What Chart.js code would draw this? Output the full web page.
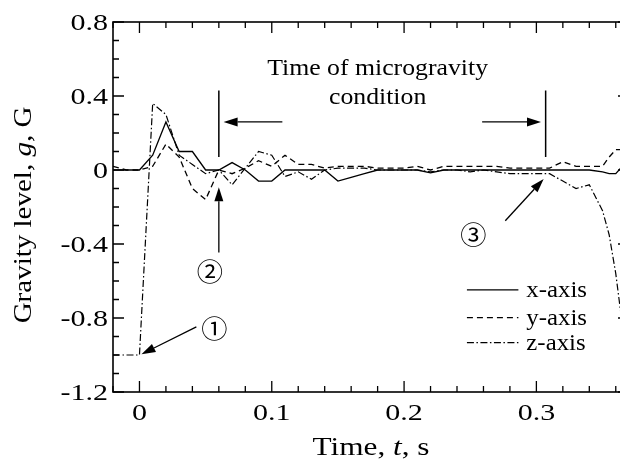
<!DOCTYPE html>
<html>
<head>
<meta charset="utf-8">
<script src="https://cdn.jsdelivr.net/npm/chart.js@4.4.1/dist/chart.umd.min.js"></script>
<style>
  html, body { margin: 0; padding: 0; background: #fff; overflow: hidden; }
  #wrap { width: 620px; height: 472px; overflow: hidden; }
</style>
</head>
<body>
<div id="wrap"><canvas id="gravityChart" width="630" height="472"></canvas></div>
<script>
// sample times, s
const times = [-0.02, -0.01, 0, 0.01, 0.02, 0.03, 0.04, 0.05, 0.06, 0.07, 0.08, 0.09,
    0.10, 0.11, 0.12, 0.13, 0.14, 0.15, 0.16, 0.17, 0.18, 0.19, 0.20, 0.21, 0.22,
    0.23, 0.24, 0.25, 0.26, 0.27, 0.28, 0.29, 0.30, 0.31, 0.32, 0.33, 0.34, 0.35,
    0.355, 0.36, 0.365, 0.37];

// gravity level, G
const xAxisG = [0, 0, 0, 0.08, 0.26, 0.10, 0.10, 0, 0, 0.04, 0, -0.06,
    -0.06, 0, 0, 0, 0, -0.06, -0.04, -0.02, 0, 0, 0, 0, -0.015,
    0, 0, 0, 0, 0, 0, 0, 0, 0, 0, 0, 0, -0.01,
    -0.02, -0.02, 0.02, 0.05];
const yAxisG = [0.02, 0, 0, 0.02, 0.14, 0.07, -0.10, -0.16, 0, -0.02, 0.01, 0.05,
    0.02, 0.08, 0.03, 0.03, 0.01, 0.02, 0.02, 0.02, 0.01, 0.01, 0.01, 0.02, 0,
    0.02, 0.02, 0.02, 0.02, 0.02, 0.01, 0.01, 0.01, 0.01, 0.045, 0.02, 0.02, 0.02,
    0.07, 0.11, 0.11, 0.09];
const zAxisG = [-1.0, -1.0, -1.0, 0.36, 0.30, 0.08, 0.03, -0.02, 0, -0.08, 0.01, 0.10,
    0.08, -0.035, -0.01, -0.05, 0, 0.01, 0.01, 0.01, 0, 0, 0, 0, -0.01,
    0, 0, -0.01, 0, -0.01, -0.02, -0.02, -0.02, -0.02, -0.06, -0.10, -0.08, -0.22,
    -0.35, -0.56, -0.84, -1.1];

const xTicks = [0, 0.1, 0.2, 0.3];
const yTicks = [-1.2, -0.8, -0.4, 0, 0.4, 0.8];
const seriesNames = ['x-axis', 'y-axis', 'z-axis'];

const SERIF = '"Liberation Serif", serif';
const CIRCLED = '"Noto Sans CJK JP", sans-serif';
const DASH = { solid: [], dashed: [6, 4], dashDot: [7, 2.5, 1.5, 2.5] };

function toPoints(values) {
    return times.map((t, i) => ({ x: t, y: values[i] }));
}

// text with its own horizontal stretch; runs = [[text, font], ...]
function drawRuns(ctx, runs, x, y, sx, align, angle) {
    let total = 0;
    const widths = runs.map(([text, font]) => {
        ctx.font = font;
        const w = ctx.measureText(text).width;
        total += w;
        return w;
    });
    let cx = align === 'center' ? -total / 2 : align === 'right' ? -total : 0;
    ctx.save();
    ctx.translate(x, y);
    if (angle) ctx.rotate(angle);
    ctx.scale(sx, 1);
    ctx.textAlign = 'left';
    ctx.textBaseline = 'alphabetic';
    ctx.fillStyle = '#000';
    runs.forEach(([text, font], i) => {
        ctx.font = font;
        ctx.fillText(text, cx, 0);
        cx += widths[i];
    });
    ctx.restore();
}

function drawArrow(ctx, x1, y1, x2, y2) {
    const ang = Math.atan2(y2 - y1, x2 - x1);
    const len = 14, half = 4.5;
    const bx = x2 - len * Math.cos(ang), by = y2 - len * Math.sin(ang);
    ctx.beginPath();
    ctx.moveTo(x1, y1);
    ctx.lineTo(bx, by);
    ctx.stroke();
    ctx.beginPath();
    ctx.moveTo(x2, y2);
    ctx.lineTo(bx + half * Math.sin(ang), by - half * Math.cos(ang));
    ctx.lineTo(bx - half * Math.sin(ang), by + half * Math.cos(ang));
    ctx.closePath();
    ctx.fill();
}

const frameAndNotes = {
    id: 'frameAndNotes',
    afterDatasetsDraw(chart) {
        const ctx = chart.ctx;
        const area = chart.chartArea;
        const xs = chart.scales.x, ys = chart.scales.y;
        const px = v => xs.getPixelForValue(v);
        const py = v => ys.getPixelForValue(v);

        ctx.save();
        ctx.strokeStyle = '#000';
        ctx.fillStyle = '#000';
        ctx.setLineDash([]);

        // frame
        ctx.lineWidth = 1.6;
        ctx.strokeRect(area.left, area.top, area.right - area.left, area.bottom - area.top);

        // inward ticks on all sides
        ctx.lineWidth = 1.3;
        ctx.beginPath();
        for (let k = -1; k <= 18; k++) {
            const x = px(k * 0.02);
            const len = k % 5 === 0 ? 11 : 6;
            ctx.moveTo(x, area.bottom); ctx.lineTo(x, area.bottom - len);
            ctx.moveTo(x, area.top); ctx.lineTo(x, area.top + len);
        }
        for (let k = -12; k <= 8; k++) {
            const y = py(k * 0.1);
            const len = k % 4 === 0 ? 11 : 6;
            ctx.moveTo(area.left, y); ctx.lineTo(area.left + len, y);
            ctx.moveTo(area.right, y); ctx.lineTo(area.right - len, y);
        }
        ctx.stroke();

        // tick labels
        const tickFont = '24px ' + SERIF;
        xs.ticks.forEach(t => {
            drawRuns(ctx, [[String(t.value), tickFont]], px(t.value), area.bottom + 28, 1.25, 'center');
        });
        ys.ticks.forEach(t => {
            const label = t.value === 0 ? '0' : t.value.toFixed(1);
            drawRuns(ctx, [[label, tickFont]], area.left - 5, py(t.value) + 8, 1.25, 'right');
        });

        // axis titles
        const tf = '25px ' + SERIF, ti = 'italic 25px ' + SERIF;
        drawRuns(ctx, [['Time, ', tf], ['t', ti], [', s', tf]],
            (area.left + area.right) / 2, 455, 1.25, 'center');
        drawRuns(ctx, [['Gravity level, ', tf], ['g', ti], [', G', tf]],
            31, (area.top + area.bottom) / 2 + 8, 1.16, 'center', -Math.PI / 2);

        // microgravity window
        ctx.lineWidth = 1.5;
        ctx.beginPath();
        ctx.moveTo(px(0.06), py(0.43)); ctx.lineTo(px(0.06), py(0.07));
        ctx.moveTo(px(0.307), py(0.43)); ctx.lineTo(px(0.307), py(0.07));
        ctx.stroke();
        ctx.lineWidth = 1.3;
        drawArrow(ctx, px(0.108), py(0.26), px(0.0636), py(0.26));
        drawArrow(ctx, px(0.259), py(0.26), px(0.3035), py(0.26));
        const nf = '23px ' + SERIF;
        drawRuns(ctx, [['Time of microgravity', nf]], px(0.180), py(0.512), 1.12, 'center');
        drawRuns(ctx, [['condition', nf]], px(0.180), py(0.355), 1.12, 'center');

        // numbered events
        drawArrow(ctx, px(0.043), py(-0.848), px(0.0015), py(-0.996));
        drawArrow(ctx, px(0.06), py(-0.446), px(0.06), py(-0.093));
        drawArrow(ctx, px(0.2765), py(-0.274), px(0.3055), py(-0.048));
        const cf = '25px ' + CIRCLED;
        drawRuns(ctx, [['\u2460', cf]], px(0.0566), py(-0.859) + 9, 1.05, 'center');
        drawRuns(ctx, [['\u2461', cf]], px(0.0533), py(-0.55) + 9, 1.05, 'center');
        drawRuns(ctx, [['\u2462', cf]], px(0.2523), py(-0.35) + 9, 1.05, 'center');

        // legend
        const legendY = [-0.648, -0.798, -0.933];
        chart.data.datasets.forEach((ds, i) => {
            const y = py(legendY[i]);
            ctx.lineWidth = ds.borderWidth;
            ctx.setLineDash(ds.borderDash || []);
            ctx.beginPath();
            ctx.moveTo(px(0.2475), y);
            ctx.lineTo(px(0.2864), y);
            ctx.stroke();
            ctx.setLineDash([]);
            drawRuns(ctx, [[ds.label, '23px ' + SERIF]], px(0.2924), y + 7.5, 1.08, 'left');
        });
        ctx.restore();
    }
};

function drawChart() {
    new Chart(document.getElementById('gravityChart'), {
        type: 'line',
        data: {
            datasets: [{
                label: seriesNames[0],
                data: toPoints(xAxisG),
                borderColor: '#000',
                borderWidth: 1.3,
                borderDash: DASH.solid,
                pointRadius: 0,
                fill: false
            }, {
                label: seriesNames[1],
                data: toPoints(yAxisG),
                borderColor: '#000',
                borderWidth: 1.3,
                borderDash: DASH.dashed,
                pointRadius: 0,
                fill: false
            }, {
                label: seriesNames[2],
                data: toPoints(zAxisG),
                borderColor: '#000',
                borderWidth: 1.2,
                borderDash: DASH.dashDot,
                pointRadius: 0,
                fill: false
            }]
        },
        options: {
            responsive: false,
            animation: false,
            devicePixelRatio: 1,
            layout: { padding: { top: 22, right: 1, left: 0, bottom: 0 } },
            plugins: { legend: { display: false }, tooltip: { enabled: false } },
            scales: {
                x: {
                    type: 'linear',
                    min: -0.02,
                    max: 0.37,
                    grid: { display: false, drawTicks: false },
                    border: { display: false },
                    ticks: { display: false },
                    afterBuildTicks: s => { s.ticks = xTicks.map(v => ({ value: v })); },
                    afterFit: s => { s.height = 80; }
                },
                y: {
                    min: -1.2,
                    max: 0.8,
                    grid: { display: false, drawTicks: false },
                    border: { display: false },
                    ticks: { display: false },
                    afterBuildTicks: s => { s.ticks = yTicks.map(v => ({ value: v })); },
                    afterFit: s => { s.width = 113; }
                }
            }
        },
        plugins: [frameAndNotes]
    });
}

Promise.all([
    document.fonts.load('25px "Liberation Serif"'),
    document.fonts.load('italic 25px "Liberation Serif"'),
    document.fonts.load('25px "Noto Sans CJK JP"', '\u2460')
]).catch(() => {}).then(drawChart);
</script>
</body>
</html>
